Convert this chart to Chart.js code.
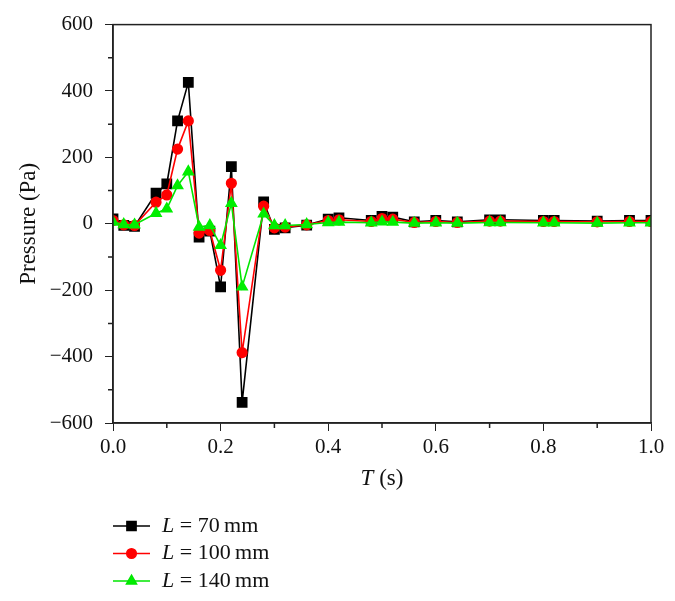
<!DOCTYPE html>
<html>
<head>
<meta charset="utf-8">
<script src="https://cdn.jsdelivr.net/npm/chart.js@4.4.0/dist/chart.umd.min.js"></script>
<style>
  html, body { margin: 0; padding: 0; background: #fff; }
  #wrap { position: relative; width: 675px; height: 601px; }
</style>
</head>
<body>
<div id="wrap"><canvas id="pressure-chart" width="675" height="601"></canvas></div>
<script>
const time = [0, 0.02, 0.04, 0.08, 0.10, 0.12, 0.14, 0.16, 0.18, 0.20, 0.22, 0.24, 0.28, 0.30, 0.32, 0.36,
  0.40, 0.42, 0.48, 0.50, 0.52, 0.56, 0.60, 0.64, 0.70, 0.72, 0.80, 0.82, 0.90, 0.96, 1.00];
const p70 = [15, -5, -8, 92, 120, 310, 426, -40, -22, -190, 172, -538, 66, -17, -12, -4,
  14, 18, 10, 22, 20, 6, 10, 6, 12, 12, 10, 10, 8, 10, 10];
const p100 = [10, -3, -5, 65, 87, 225, 310, -28, -20, -140, 122, -388, 53, -12, -10, -3,
  10, 12, 7, 16, 14, 4, 7, 4, 8, 8, 7, 7, 6, 7, 7];
const p140 = [5, -2, -3, 32, 45, 115, 157, -10, -5, -65, 62, -190, 30, -5, -5, -2,
  4, 5, 3, 6, 5, 2, 3, 2, 4, 4, 3, 3, 2, 3, 3];
const seriesNames = ["70", "100", "140"];
const yMinor = [-500, -300, -100, 100, 300, 500];
const xMinor = [0.1, 0.3, 0.5, 0.7, 0.9];

const serif = "'Liberation Serif', 'DejaVu Serif', serif";
const pts = (vals) => time.map((t, i) => ({ x: t, y: vals[i] }));

// frame, minor ticks, axis titles and legend
const extras = {
  id: "extras",
  afterDraw(chart) {
    const ctx = chart.ctx;
    const a = chart.chartArea;
    const xs = chart.scales.x, ys = chart.scales.y;
    ctx.save();
    ctx.strokeStyle = "#222";
    ctx.lineWidth = 1.5;
    ctx.strokeRect(a.left, a.top, a.right - a.left, a.bottom - a.top);

    ctx.beginPath();
    yMinor.forEach(v => {
      const y = ys.getPixelForValue(v);
      ctx.moveTo(a.left - 5, y); ctx.lineTo(a.left, y);
    });
    xMinor.forEach(v => {
      const x = xs.getPixelForValue(v);
      ctx.moveTo(x, a.bottom); ctx.lineTo(x, a.bottom + 5);
    });
    ctx.stroke();

    ctx.fillStyle = "#111";
    ctx.textBaseline = "middle";
    // y title
    ctx.save();
    ctx.translate(29, (a.top + a.bottom) / 2);
    ctx.rotate(-Math.PI / 2);
    ctx.font = "23px " + serif;
    ctx.textAlign = "center";
    ctx.fillText("Pressure (Pa)", 0, 0);
    ctx.restore();

    // x title with italic T
    ctx.textAlign = "left";
    const cx = (a.left + a.right) / 2;
    ctx.font = "italic 23px " + serif;
    const wT = ctx.measureText("T").width;
    ctx.font = "23px " + serif;
    const wS = ctx.measureText(" (s)").width;
    let x0 = cx - (wT + wS) / 2;
    ctx.font = "italic 23px " + serif;
    ctx.fillText("T", x0, 479);
    ctx.font = "23px " + serif;
    ctx.fillText(" (s)", x0 + wT, 479);

    // legend
    chart.data.datasets.forEach((ds, i) => {
      const y = 526 + i * 27.5;
      ctx.strokeStyle = ds.borderColor;
      ctx.lineWidth = 1.5;
      ctx.beginPath();
      ctx.moveTo(113, y); ctx.lineTo(150, y);
      ctx.stroke();
      ctx.fillStyle = ds.pointBackgroundColor;
      Chart.helpers.drawPoint(ctx, {
        pointStyle: ds.pointStyle, radius: ds.pointRadius, rotation: 0, borderWidth: 1
      }, 131.5, y);
      ctx.fillStyle = "#111";
      ctx.font = "italic 22px " + serif;
      ctx.fillText("L", 162, y);
      const wL = ctx.measureText("L").width;
      ctx.font = "22px " + serif;
      ctx.fillText(" = " + seriesNames[i] + "\u2009mm", 162 + wL, y);
    });
    ctx.restore();
  }
};

const cfg = {
  type: "line",
  data: {
    datasets: [
      {
        label: "L = 70 mm", data: pts(p70), borderColor: "#000", backgroundColor: "#000",
        pointBackgroundColor: "#000", pointBorderColor: "#000", pointStyle: "rect",
        pointRadius: 6.5, borderWidth: 1.6, order: 3
      },
      {
        label: "L = 100 mm", data: pts(p100), borderColor: "#ff0000", backgroundColor: "#ff0000",
        pointBackgroundColor: "#ff0000", pointBorderColor: "#ff0000", pointStyle: "circle",
        pointRadius: 4.8, borderWidth: 1.6, order: 2
      },
      {
        label: "L = 140 mm", data: pts(p140), borderColor: "#00e600", backgroundColor: "#00ee00",
        pointBackgroundColor: "#00ee00", pointBorderColor: "#00ee00", pointStyle: "triangle",
        pointRadius: 5.8, borderWidth: 1.6, order: 1
      }
    ]
  },
  options: {
    responsive: false,
    animation: false,
    layout: { padding: { top: 22, right: 24, bottom: 118, left: 0 } },
    plugins: { legend: { display: false }, tooltip: { enabled: false } },
    elements: { line: { tension: 0 }, point: { borderWidth: 1 } },
    scales: {
      x: {
        type: "linear", min: 0, max: 1,
        afterFit(s) { s.height = 60; },
        grid: { drawOnChartArea: false, tickLength: 8, tickColor: "#222" },
        border: { color: "#222", width: 1.5 },
        ticks: {
          stepSize: 0.2, padding: 4, color: "#111", maxRotation: 0,
          font: { family: serif, size: 21 },
          callback: v => v.toFixed(1)
        }
      },
      y: {
        min: -600, max: 600,
        afterFit(s) { s.width = 113; },
        grid: { drawOnChartArea: false, tickLength: 8, tickColor: "#222" },
        border: { color: "#222", width: 1.5 },
        ticks: {
          stepSize: 200, padding: 12, color: "#111",
          font: { family: serif, size: 21 },
          callback: v => (v < 0 ? "\u2212" + Math.abs(v) : String(v))
        }
      }
    }
  },
  plugins: [extras]
};

new Chart(document.getElementById("pressure-chart").getContext("2d"), cfg);
</script>
</body>
</html>
